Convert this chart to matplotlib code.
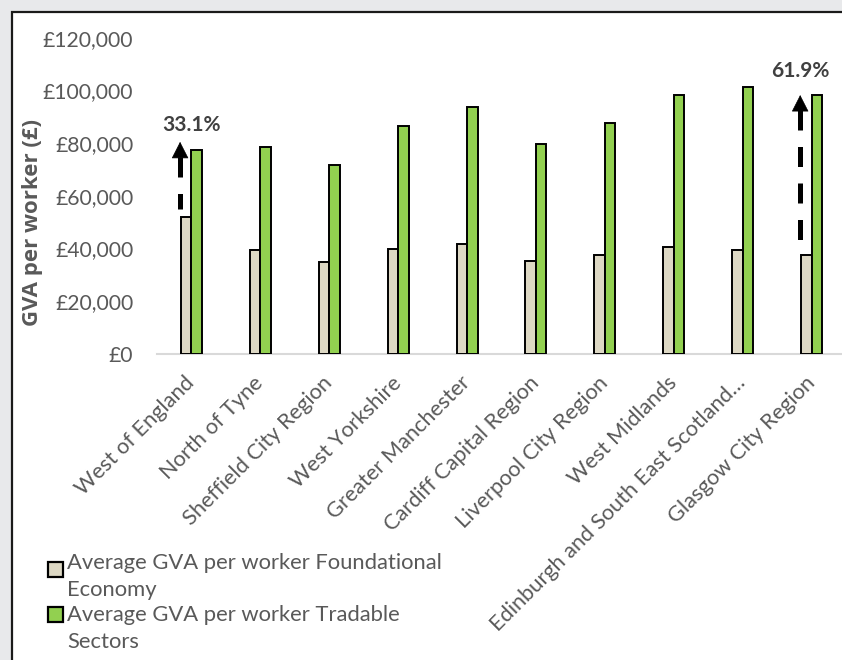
import numpy as np
import matplotlib.pyplot as plt
from matplotlib.patches import Rectangle

regions = ['West of England', 'North of Tyne', 'Sheffield City Region', 'West Yorkshire',
           'Greater Manchester', 'Cardiff Capital Region', 'Liverpool City Region',
           'West Midlands', 'Edinburgh and South East Scotland…', 'Glasgow City Region']
foundational = [51800, 39400, 34900, 39700, 41500, 35100, 37500, 40400, 39400, 37500]
tradable = [77400, 78400, 71700, 86500, 93900, 79700, 87600, 98300, 101300, 98300]
yticks = [0, 20000, 40000, 60000, 80000, 100000, 120000]

# gap arrows: region index, dashed arrow start/end, label
gap_idx = [0, 9]
gap_from = [55000, 42000]
gap_to = [80500, 98300]
gap_text = ['33.1%', '61.9%']

legend_labels = ['Average GVA per worker Foundational\nEconomy',
                 'Average GVA per worker Tradable\nSectors']

W, H = 842, 660
grey = '#595959'
fig = plt.figure(figsize=(W / 100, H / 100), dpi=100)
fig.patch.set_facecolor('#E8E9EB')

# white chart panel with black border (runs off the right and bottom edges)
panel = Rectangle((12 / W, -0.1), 1.2, (H - 12) / H + 0.1, transform=fig.transFigure,
                  facecolor='white', edgecolor='#1a1a1a', lw=1.6, zorder=-5)
fig.add_artist(panel)

ax = fig.add_axes([157 / W, 1 - 353.5 / H, 689 / W, (353.5 - 38) / H])
ax.set_facecolor('none')

x = np.arange(len(regions))
w = 0.153
ax.bar(x - w / 2, foundational, w, color='#DDD8C4', edgecolor='black', lw=1.4, zorder=3)
ax.bar(x + w / 2, tradable, w, color='#92D050', edgecolor='black', lw=1.4, zorder=3)

ax.set_xlim(-0.5, len(regions) - 0.5)
ax.set_ylim(0, 120000)
ax.set_yticks(yticks)
ax.set_yticklabels(['£{:,}'.format(v) for v in yticks])
ax.set_xticks(x)
ax.set_xticklabels(regions, rotation=45, ha='right', rotation_mode='anchor', va='center')

for s in ['top', 'right', 'left']:
    ax.spines[s].set_visible(False)
ax.spines['bottom'].set_color('#D9D9D9')
ax.spines['bottom'].set_linewidth(1.5)
ax.tick_params(axis='y', length=0, pad=17, labelsize=15.2, labelcolor=grey)
ax.tick_params(axis='x', length=0, pad=19, labelsize=15.7, labelcolor=grey)
for lab in ax.get_xticklabels() + ax.get_yticklabels():
    lab.set_fontfamily('Lato')

fig.text(33 / W, 1 - 222 / H, 'GVA per worker (£)', rotation=90, ha='center', va='center',
         fontsize=16, fontweight='bold', color=grey, family='Open Sans')

# dashed gap arrows
head = 5800
for i, y0, y1 in zip(gap_idx, gap_from, gap_to):
    xa = i - 0.165
    ax.plot([xa, xa], [y1 - head, y0], color='black', lw=3.6, dashes=(4, 3.3),
            solid_capstyle='butt', dash_capstyle='butt', zorder=4)
    ax.annotate('', xy=(xa, y1), xytext=(xa, y1 - head),
                arrowprops=dict(arrowstyle='-|>,head_length=0.55,head_width=0.28',
                                mutation_scale=20, color='black', lw=0.5,
                                shrinkA=0, shrinkB=0), zorder=4)

ax.text(0.0, 86900, gap_text[0], ha='center', va='center', fontsize=15,
        fontweight='bold', color='#404040', family='Lato')
ax.text(9 - 0.17, 107600, gap_text[1], ha='center', va='center', fontsize=15,
        fontweight='bold', color='#404040', family='Lato')

# legend
colors = ['#DDD8C4', '#92D050']
for k, (lab, c) in enumerate(zip(legend_labels, colors)):
    ysq = 569.5 + k * 45
    fig.add_artist(Rectangle((48 / W, 1 - (ysq + 7.5) / H), 15 / W, 15 / H,
                             transform=fig.transFigure, facecolor=c,
                             edgecolor='black', lw=1.6))
    fig.text(67 / W, 1 - (553 + k * 52) / H, lab, ha='left', va='top',
             fontsize=15.8, color=grey, family='Lato', linespacing=1.45)

fig.savefig('out.png', dpi=100, facecolor=fig.get_facecolor())
